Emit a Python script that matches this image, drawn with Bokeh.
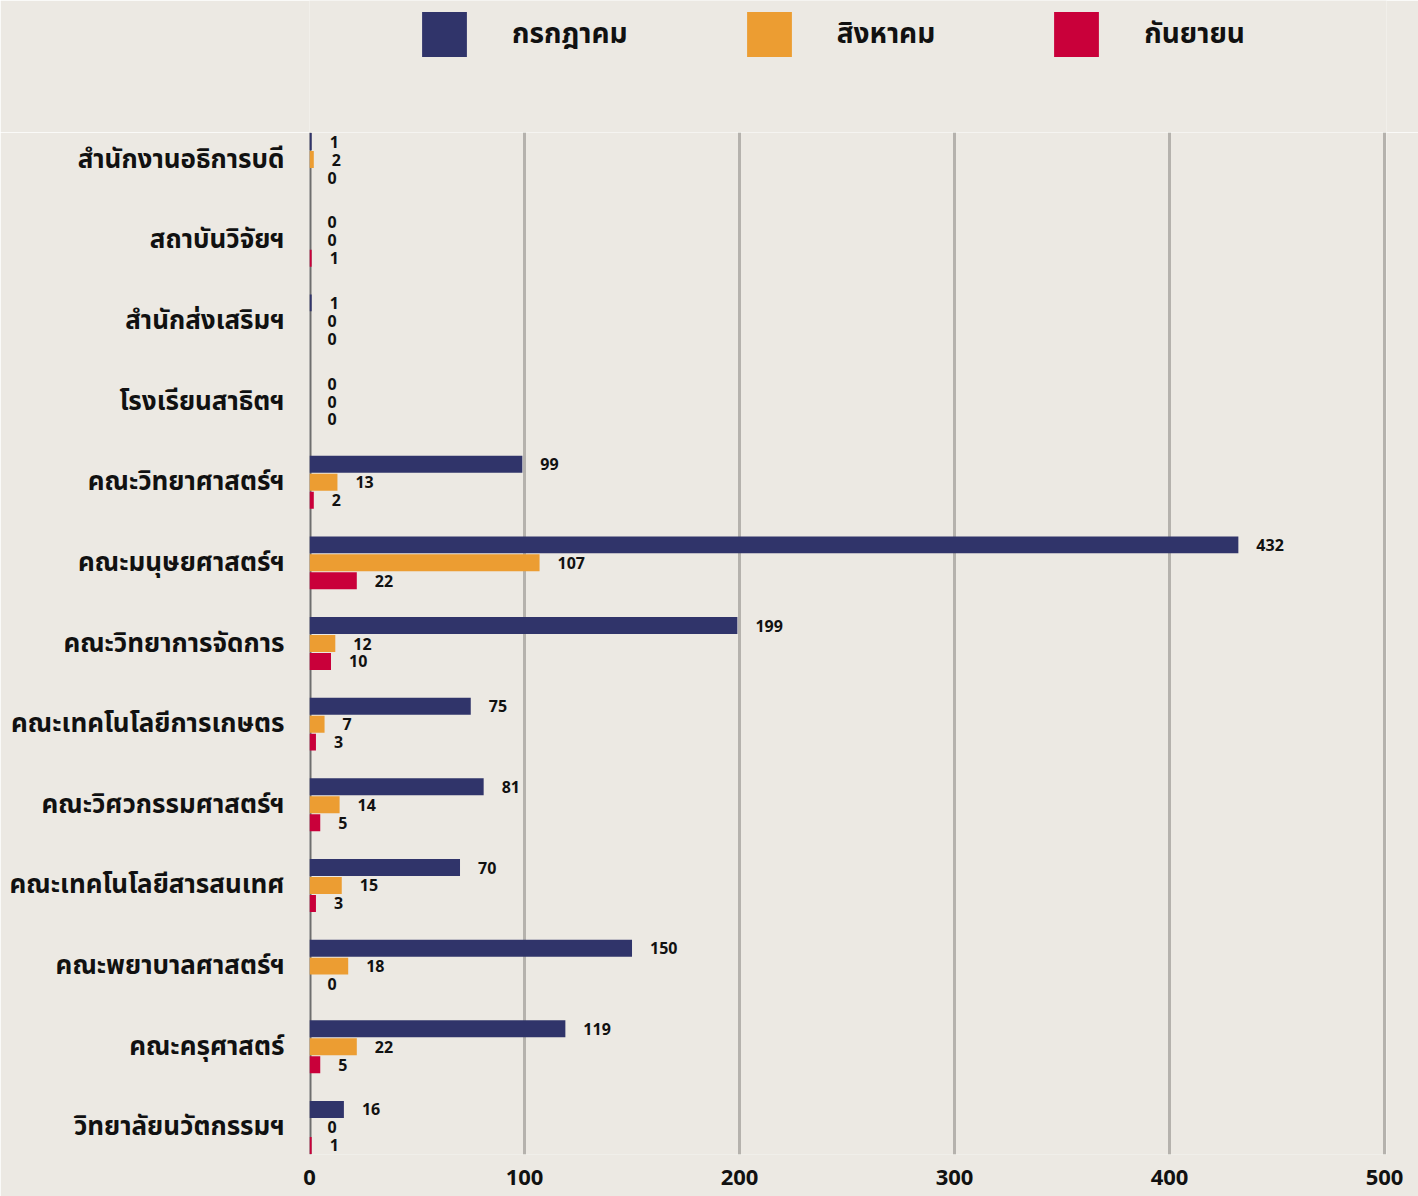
from bokeh.plotting import figure
from bokeh.layouts import column
from bokeh.models import (ColumnDataSource, FactorRange, Range1d, FixedTicker,
                          Legend, LegendItem, Span)
from bokeh.transform import dodge
from bokeh.core.properties import value
from bokeh.embed import file_html
from bokeh.resources import INLINE

categories = ["สำนักงานอธิการบดี", "สถาบันวิจัยฯ", "สำนักส่งเสริมฯ", "โรงเรียนสาธิตฯ",
              "คณะวิทยาศาสตร์ฯ", "คณะมนุษยศาสตร์ฯ", "คณะวิทยาการจัดการ",
              "คณะเทคโนโลยีการเกษตร", "คณะวิศวกรรมศาสตร์ฯ", "คณะเทคโนโลยีสารสนเทศ",
              "คณะพยาบาลศาสตร์ฯ", "คณะครุศาสตร์", "วิทยาลัยนวัตกรรมฯ"]
july = [1, 0, 1, 0, 99, 432, 199, 75, 81, 70, 150, 119, 16]
august = [2, 0, 0, 0, 13, 107, 12, 7, 14, 15, 18, 22, 0]
september = [0, 1, 0, 0, 2, 22, 10, 3, 5, 3, 0, 5, 1]
series_names = ["กรกฎาคม", "สิงหาคม", "กันยายน"]
x_ticks = [0, 100, 200, 300, 400, 500]

BG = "#ECE9E3"
COLORS = ["#30346A", "#EC9D32", "#C9003A"]
FONT = "'Noto Sans Thai', 'Noto Sans Thai UI', 'Noto Sans', sans-serif"

src = ColumnDataSource(dict(
    cat=categories,
    jul=july, aug=august, sep=september,
    jul_s=[str(v) for v in july],
    aug_s=[str(v) for v in august],
    sep_s=[str(v) for v in september],
))

# ---------------- main chart ----------------
p = figure(width=1418, height=1064,
           y_range=FactorRange(factors=list(reversed(categories)),
                               range_padding=-0.165, range_padding_units="absolute"),
           x_range=Range1d(0, 500.9),
           output_backend="svg", toolbar_location=None,
           background_fill_color=BG, border_fill_color=BG,
           min_border_left=309, min_border_right=32,
           min_border_top=0, min_border_bottom=42)
p.outline_line_color = None

offsets = [0.223, 0.0, -0.223]
cols = ["jul", "aug", "sep"]
for col, off, color in zip(cols, offsets, COLORS):
    p.hbar(y=dodge("cat", off, range=p.y_range), left=0, right=col,
           height=0.21, source=src, fill_color=color, line_color=None)
    p.text(x=col, y=dodge("cat", off, range=p.y_range), text=col + "_s",
           source=src, x_offset=18, text_baseline="middle", text_align="left",
           text_font=value(FONT), text_font_size="16px", text_font_style="bold",
           text_color="#111111")

zero_line = Span(location=0, dimension="height", line_color="#6E6E6E",
                 line_width=4, level="underlay")
p.add_layout(zero_line)

p.xgrid.ticker = FixedTicker(ticks=x_ticks[1:])
p.xgrid.grid_line_color = "#B5B2AD"
p.xgrid.grid_line_width = 3
p.ygrid.grid_line_color = None

p.xaxis.ticker = FixedTicker(ticks=x_ticks)
p.xaxis.axis_line_color = None
p.xaxis.major_tick_line_color = None
p.xaxis.major_tick_out = 0
p.xaxis.minor_tick_line_color = None
p.xaxis.major_label_text_font = FONT
p.xaxis.major_label_text_font_size = "22px"
p.xaxis.major_label_text_font_style = "bold"
p.xaxis.major_label_text_color = "#111111"
p.xaxis.major_label_standoff = 15

p.yaxis.axis_line_color = None
p.yaxis.major_tick_line_color = None
p.yaxis.major_tick_out = 0
p.yaxis.minor_tick_line_color = None
p.yaxis.major_label_text_font = FONT
p.yaxis.major_label_text_font_size = "26px"
p.yaxis.major_label_text_font_style = "bold"
p.yaxis.major_label_text_color = "#111111"
p.yaxis.major_label_standoff = 25

# ---------------- legend strip ----------------
lg = figure(width=1418, height=132, x_range=Range1d(0, 1), y_range=Range1d(0, 1),
            output_backend="svg", toolbar_location=None,
            background_fill_color=BG, border_fill_color=BG,
            min_border_left=0, min_border_right=0, min_border_top=0, min_border_bottom=0)
lg.outline_line_color = None
lg.axis.visible = False
lg.grid.visible = False
items = []
for color, name in zip(COLORS, series_names):
    # legend proxy, placed outside the visible range of the strip
    proxy = lg.hbar(y=[-5], right=[-5], height=0.1, fill_color=color, line_color=None)
    items.append(LegendItem(label=name, renderers=[proxy]))

legend = Legend(items=items, orientation="horizontal", location=(107, 70),
                glyph_width=56, glyph_height=56, label_standoff=40, spacing=113,
                label_text_font=FONT, label_text_font_size="28px",
                label_text_font_style="bold",
                label_text_color="#111111", label_text_baseline="middle",
                background_fill_alpha=0, border_line_alpha=0,
                padding=0, margin=0, click_policy="none")
lg.add_layout(legend, "center")

layout = column(lg, p, spacing=0)
open("out.html", "w").write(file_html(layout, INLINE))
